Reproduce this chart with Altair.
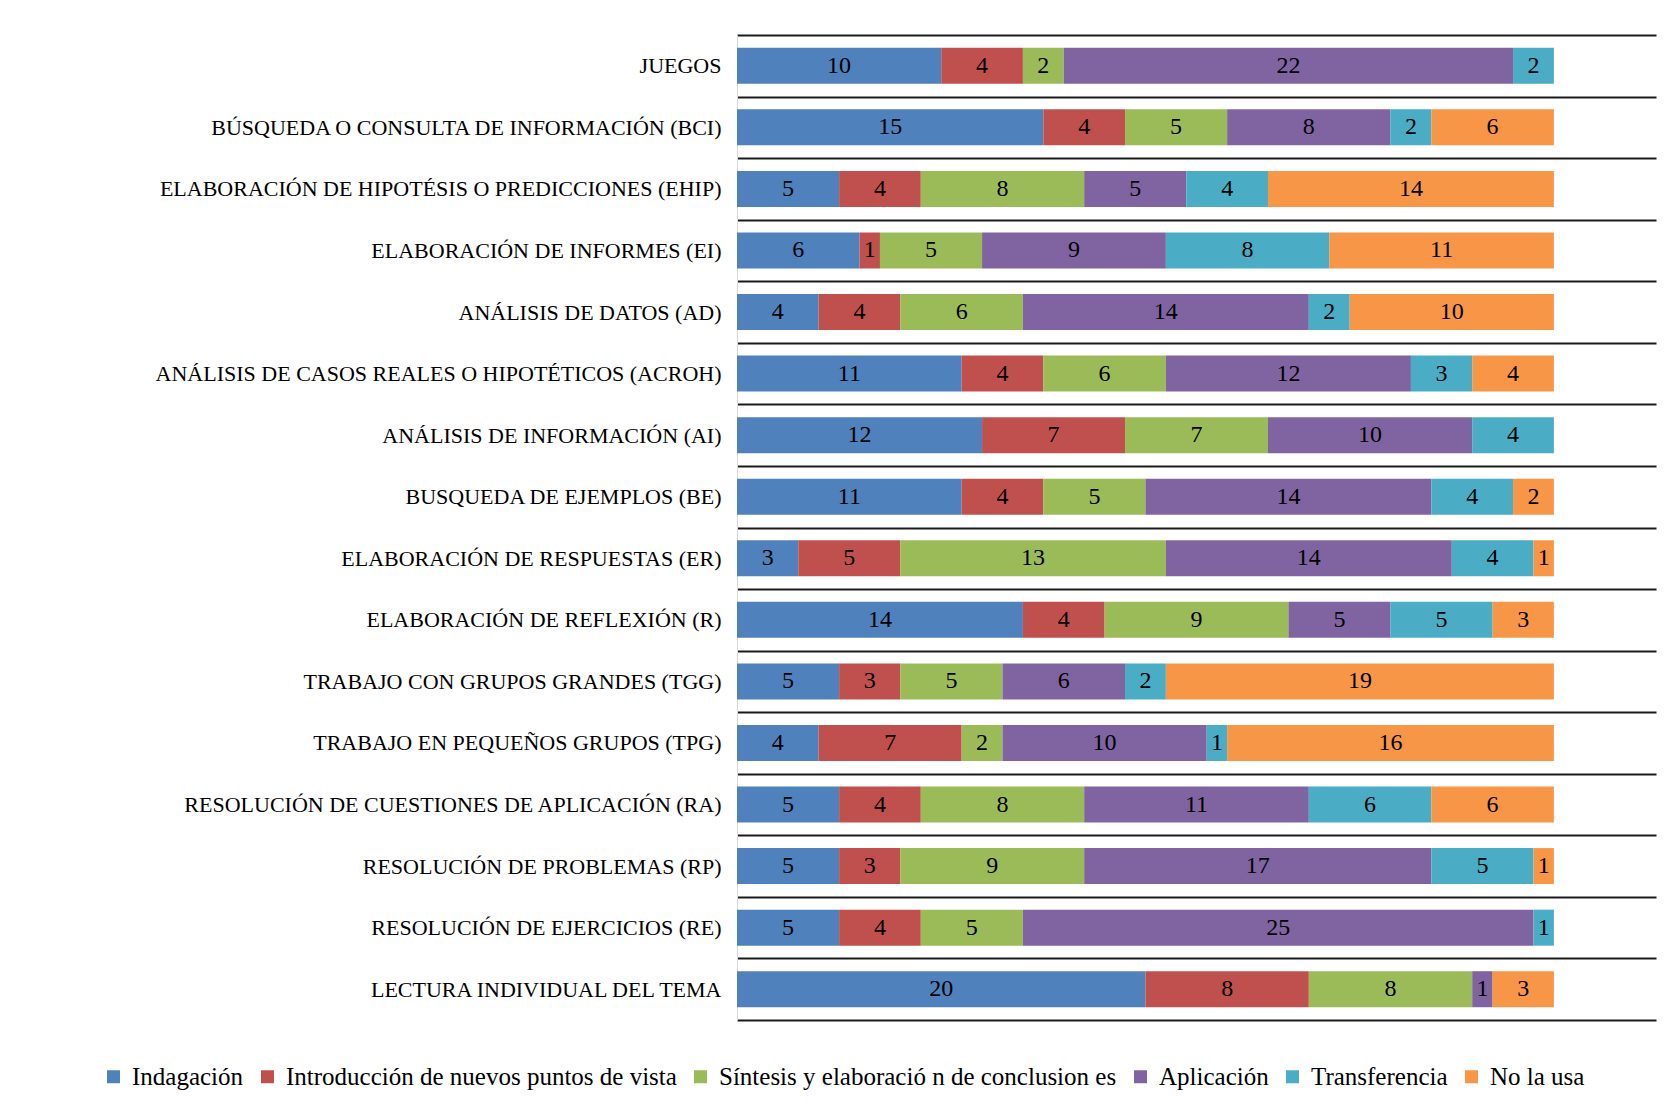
import altair as alt
import pandas as pd

categories = [
    "JUEGOS",
    "BÚSQUEDA O CONSULTA DE INFORMACIÓN (BCI)",
    "ELABORACIÓN DE HIPOTÉSIS O PREDICCIONES (EHIP)",
    "ELABORACIÓN DE INFORMES (EI)",
    "ANÁLISIS DE DATOS (AD)",
    "ANÁLISIS DE CASOS REALES O HIPOTÉTICOS (ACROH)",
    "ANÁLISIS DE INFORMACIÓN (AI)",
    "BUSQUEDA DE EJEMPLOS (BE)",
    "ELABORACIÓN DE RESPUESTAS (ER)",
    "ELABORACIÓN DE REFLEXIÓN (R)",
    "TRABAJO CON GRUPOS GRANDES (TGG)",
    "TRABAJO EN PEQUEÑOS GRUPOS (TPG)",
    "RESOLUCIÓN DE CUESTIONES DE APLICACIÓN (RA)",
    "RESOLUCIÓN DE PROBLEMAS (RP)",
    "RESOLUCIÓN DE EJERCICIOS (RE)",
    "LECTURA INDIVIDUAL DEL TEMA",
]

series = [
    "Indagación",
    "Introducción de nuevos puntos de vista",
    "Síntesis y elaboració n de conclusion es",
    "Aplicación",
    "Transferencia",
    "No la usa",
]

indagacion    = [10, 15, 5, 6, 4, 11, 12, 11, 3, 14, 5, 4, 5, 5, 5, 20]
introduccion  = [4, 4, 4, 1, 4, 4, 7, 4, 5, 4, 3, 7, 4, 3, 4, 8]
sintesis      = [2, 5, 8, 5, 6, 6, 7, 5, 13, 9, 5, 2, 8, 9, 5, 8]
aplicacion    = [22, 8, 5, 9, 14, 12, 10, 14, 14, 5, 6, 10, 11, 17, 25, 1]
transferencia = [2, 2, 4, 8, 2, 3, 4, 4, 4, 5, 2, 1, 6, 5, 1, 0]
no_la_usa     = [0, 6, 14, 11, 10, 4, 0, 2, 1, 3, 19, 16, 6, 1, 0, 3]

colors = ["#4F81BD", "#C0504D", "#9BBB59", "#8064A2", "#4BACC6", "#F79646"]

rows = []
for s_i, (name, vals) in enumerate(zip(series, [indagacion, introduccion, sintesis,
                                                aplicacion, transferencia, no_la_usa])):
    for c, v in zip(categories, vals):
        if v > 0:
            rows.append({"cat": c, "series": name, "order": s_i, "value": v})
df = pd.DataFrame(rows)

FONT = "Liberation Serif"

base = alt.Chart(df).transform_stack(
    stack="value", groupby=["cat"], as_=["x0", "x1"],
    sort=[alt.SortField("order", order="ascending")],
).transform_calculate(mid="(datum.x0 + datum.x1) / 2")

y_scale = alt.Scale(paddingInner=0, paddingOuter=0)

y_enc = alt.Y(
    "cat:N", sort=categories, title=None, scale=y_scale,
    axis=alt.Axis(
        labelFont=FONT, labelFontSize=22, labelColor="#000000", labelPadding=16,
        labelLimit=800, ticks=False, domain=True, domainColor="#d9d9d9", domainWidth=1,
        grid=True, gridColor="#1a1a1a", gridWidth=2, tickBand="extent",
    ),
)

x_scale = alt.Scale(domain=[0, 45], nice=False, zero=True)

bars = base.mark_bar(height={"band": 0.585}).encode(
    y=y_enc,
    x=alt.X("x0:Q", scale=x_scale, axis=None),
    x2="x1:Q",
    color=alt.Color(
        "series:N", sort=series,
        scale=alt.Scale(domain=series, range=colors),
        legend=alt.Legend(
            title=None, orient="none", legendX=-636, legendY=1029,
            direction="horizontal", symbolType="square", symbolSize=169,
            symbolStrokeWidth=0, labelFont=FONT, labelFontSize=25,
            labelColor="#000000", labelLimit=800, columnPadding=11, labelOffset=6,
        ),
    ),
)

texts = base.mark_text(font=FONT, fontSize=24, color="#000000", baseline="middle").encode(
    y=alt.Y("cat:N", sort=categories),
    x=alt.X("mid:Q", scale=x_scale),
    text=alt.Text("value:Q"),
)

chart = alt.layer(bars, texts).properties(
    width=919, height=985,
    autosize="none",
    padding={"left": 729, "top": 27, "right": 5, "bottom": 80},
    background="#ffffff",
).configure_view(stroke=None)

chart.save("out.html", embed_options={"renderer": "svg", "actions": False})
